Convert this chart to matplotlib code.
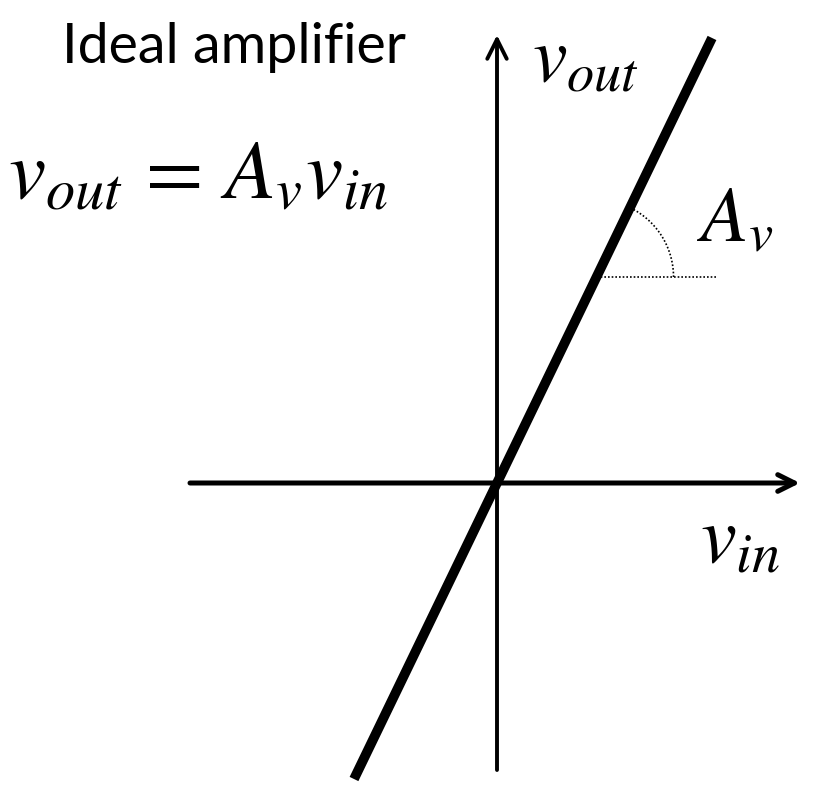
import numpy as np
import matplotlib
matplotlib.use("Agg")
import matplotlib.pyplot as plt

plt.rcParams['mathtext.fontset'] = 'stix'

# data (units: 1 = 100 px in reference)
gain = 2.07
vin_line = [-1.43, 2.15]
x_axis = [-3.07, 3.03]
y_axis = [-2.87, 4.48]
ref_y = 2.06
ref_x_end = 2.21
arc_radius = 0.77

fig = plt.figure(figsize=(8.17, 7.93), dpi=100)
ax = fig.add_axes([0, 0, 1, 1])
ax.set_xlim(-4.97, 3.20)
ax.set_ylim(-3.10, 4.83)
ax.axis('off')

# axes arrows
ax.annotate('', xy=(x_axis[1], 0), xytext=(x_axis[0], 0),
            arrowprops=dict(arrowstyle='->,head_length=1.2,head_width=0.6', lw=3.6, color='black',
                            shrinkA=0, shrinkB=0))
ax.annotate('', xy=(0, y_axis[1]), xytext=(0, y_axis[0]),
            arrowprops=dict(arrowstyle='->,head_length=1.4,head_width=0.7', lw=2.8, color='black',
                            shrinkA=0, shrinkB=0))

# transfer line
xs = np.array(vin_line)
ax.plot(xs, gain * xs, color='black', lw=7, solid_capstyle='butt')

# slope indicator
x0 = ref_y / gain
ax.plot([x0, ref_x_end], [ref_y, ref_y], color='black', lw=1.2, ls=(0, (1, 1.2)))
th = np.linspace(0, np.arctan(gain), 60)
ax.plot(x0 + arc_radius * np.cos(th), ref_y + arc_radius * np.sin(th),
        color='black', lw=1.2, ls=(0, (1, 1.2)))

# texts
ax.text(-4.35, 4.20, 'Ideal amplifier', fontsize=40, family='Lato', ha='left', va='baseline')
ax.text(-4.89, 2.86, r'$v_{out}\,=\,A_v v_{in}$', fontsize=60, ha='left', va='baseline')
ax.text(0.35, 4.02, r'$v_{out}$', fontsize=56, ha='left', va='baseline')
ax.text(2.00, 2.42, r'$A_v$', fontsize=56, ha='left', va='baseline')
ax.text(2.03, -0.80, r'$v_{in}$', fontsize=58, ha='left', va='baseline')

fig.savefig('out.png', dpi=100, facecolor='white')
